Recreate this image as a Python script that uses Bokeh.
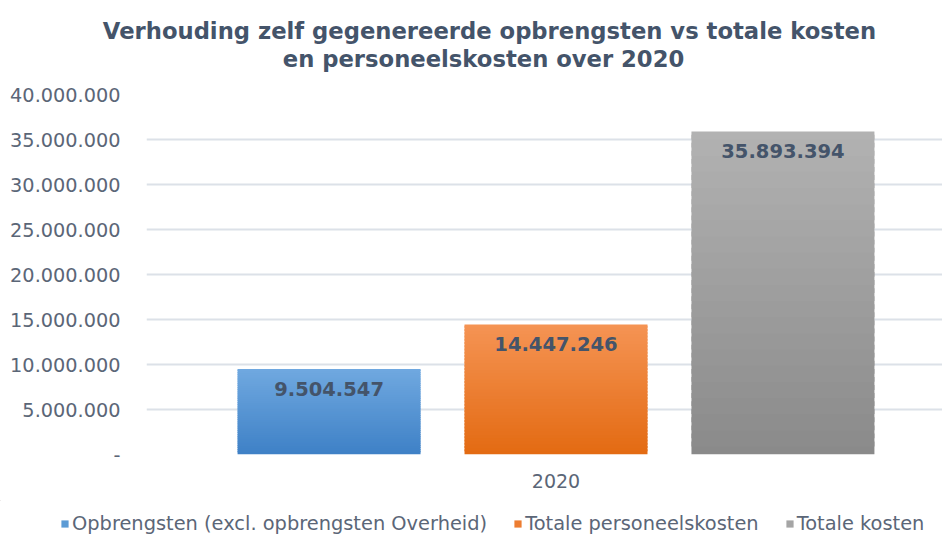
from bokeh.plotting import figure
from bokeh.models import ColumnDataSource, Range1d, FixedTicker, Label, Legend, LegendItem
from bokeh.core.properties import value
from bokeh.embed import file_html
from bokeh.resources import INLINE

# ---- data ----
categories = ["2020"]
series_names = ["Opbrengsten (excl. opbrengsten Overheid)", "Totale personeelskosten", "Totale kosten"]
values_2020 = [9504547, 14447246, 35893394]
y_ticks = [0, 5000000, 10000000, 15000000, 20000000, 25000000, 30000000, 35000000, 40000000]
y_tick_labels = ["-", "5.000.000", "10.000.000", "15.000.000", "20.000.000",
                 "25.000.000", "30.000.000", "35.000.000", "40.000.000"]
title_lines = ["Verhouding zelf gegenereerde opbrengsten vs totale kosten",
               "en personeelskosten over 2020"]

# ---- style ----
top_colors = [(112, 168, 224), (245, 148, 84), (178, 178, 178)]
bottom_colors = [(62, 129, 198), (227, 106, 18), (138, 138, 138)]
legend_colors = ["#5B9BD5", "#ED7D31", "#A5A5A5"]
bar_w = 0.2234
gap = 0.0537
n_slices = 40
title_color = "#44546A"
label_color = "#5B6677"
FONT = "DejaVu Sans"
W = 942

def hexc(c):
    return "#%02x%02x%02x" % tuple(int(round(v)) for v in c)

xs, bottoms, tops, cols = [], [], [], []
lab_x, lab_y, lab_t = [], [], []
for k, v in enumerate(values_2020):
    cx = 0.5 + (k - 1) * (bar_w + gap)
    for i in range(n_slices):
        f = (i + 0.5) / n_slices
        c = [bottom_colors[k][j] + (top_colors[k][j] - bottom_colors[k][j]) * f for j in range(3)]
        xs.append(cx)
        bottoms.append(v * i / n_slices)
        tops.append(v * min(i + 1.6, n_slices) / n_slices)
        cols.append(hexc(c))
    lab_x.append(cx)
    lab_y.append(v)
    lab_t.append(f"{v:,}".replace(",", "."))

src = ColumnDataSource(dict(x=xs, bottom=bottoms, top=tops, color=cols))

def bare(fig):
    fig.outline_line_color = None
    fig.background_fill_color = "white"
    fig.border_fill_color = "white"
    fig.grid.visible = False

# ---- header (title) ----
HH = 80
head = figure(width=W, height=HH, output_backend="svg", toolbar_location=None,
              x_range=Range1d(0, W), y_range=Range1d(HH, 0),
              min_border=0, x_axis_type=None, y_axis_type=None)
bare(head)
for txt, xc, yb in zip(title_lines, [489, 483], [30, 58]):
    head.add_layout(Label(x=xc, y=yb, text=txt, text_align="center", text_baseline="alphabetic",
                          text_font=FONT, text_font_style="bold", text_font_size="22.7px",
                          text_color=title_color))

# ---- main chart ----
MH = 420
p = figure(width=W, height=MH, output_backend="svg", toolbar_location=None,
           x_range=Range1d(0, 796 / 819), y_range=Range1d(0, 40000000),
           min_border_left=146, min_border_right=0, min_border_top=14, min_border_bottom=46)
p.outline_line_color = None
p.background_fill_color = "white"
p.border_fill_color = "white"

p.vbar(x="x", bottom="bottom", top="top", width=bar_w, source=src,
       fill_color="color", line_color=None)

p.text(x=lab_x, y=lab_y, text=lab_t, text_align="center", text_baseline="top",
       y_offset=13, text_font=value(FONT), text_font_style="bold",
       text_font_size="19.5px", text_color=title_color)

p.yaxis.ticker = FixedTicker(ticks=y_ticks)
p.yaxis.major_label_overrides = {t: l for t, l in zip(y_ticks, y_tick_labels)}
p.yaxis.axis_line_color = None
p.yaxis.major_tick_line_color = None
p.yaxis.minor_tick_line_color = None
p.yaxis.major_label_standoff = 20
p.yaxis.major_label_text_font = FONT
p.yaxis.major_label_text_font_size = "19.3px"
p.yaxis.major_label_text_color = label_color

p.xaxis.ticker = FixedTicker(ticks=[0.5])
p.xaxis.major_label_overrides = {0.5: categories[0]}
p.xaxis.axis_line_color = None
p.xaxis.major_tick_line_color = None
p.xaxis.minor_tick_line_color = None
p.xaxis.major_label_standoff = 13
p.xaxis.major_label_text_font = FONT
p.xaxis.major_label_text_font_size = "19px"
p.xaxis.major_label_text_color = label_color

p.xgrid.grid_line_color = None
p.ygrid.ticker = FixedTicker(ticks=y_ticks)
p.ygrid.grid_line_color = "#DCE1E8"
p.ygrid.grid_line_width = 2

# ---- legend strip (legend swatches use an off-screen copy of each series) ----
LH = 536 - HH - MH
lg = figure(width=W, height=LH, output_backend="svg", toolbar_location=None,
            x_range=Range1d(100, 101), y_range=Range1d(-2e8, -1e8), min_border=0,
            x_axis_type=None, y_axis_type=None)
bare(lg)
leg_src = ColumnDataSource(dict(x=lab_x, top=values_2020, color=legend_colors))
lr = lg.vbar(x="x", bottom=0, top="top", width=bar_w, source=leg_src,
             fill_color="color", line_color=None)
items = [LegendItem(label=n, renderers=[lr], index=i) for i, n in enumerate(series_names)]
leg = Legend(items=items, orientation="horizontal", location=(60, 1),
             glyph_width=9, glyph_height=9, label_standoff=3, spacing=26, padding=0,
             margin=0, border_line_color=None, background_fill_alpha=0,
             label_text_font=FONT, label_text_font_size="19.4px",
             label_text_color=label_color)
lg.add_layout(leg, "center")

open("out.html", "w").write(file_html([head, p, lg], INLINE))
